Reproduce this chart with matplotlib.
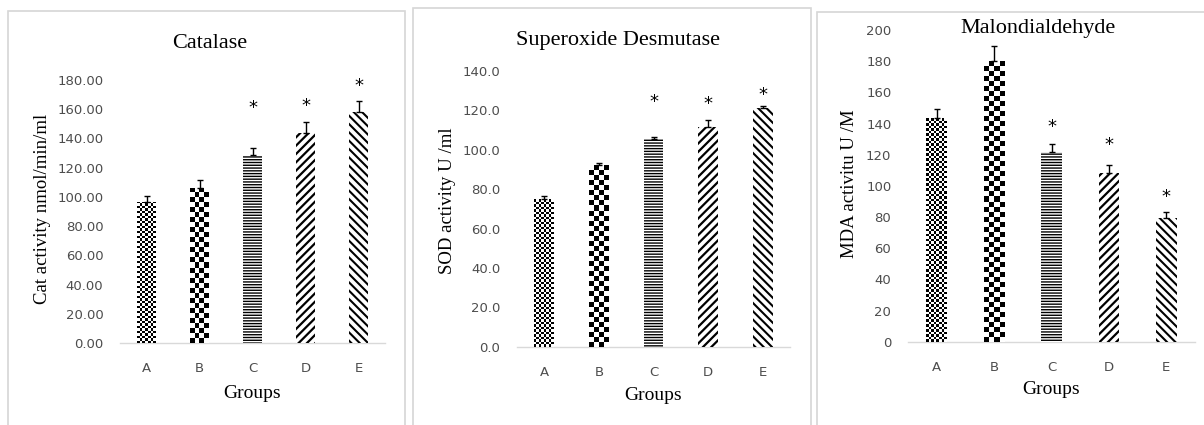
import numpy as np
import matplotlib
matplotlib.use("Agg")
import matplotlib.pyplot as plt
from matplotlib.patches import Rectangle

groups = ["A", "B", "C", "D", "E"]

cat_vals = [96.7, 106.3, 128.7, 143.9, 158.3]
cat_err = [3.9, 5.3, 5.0, 7.4, 7.5]
cat_star = [None, None, 160.8, 162.0, 176.0]

sod_vals = [75.0, 92.3, 105.3, 111.7, 121.0]
sod_err = [1.5, 1.2, 1.4, 3.3, 1.0]
sod_star = [None, None, 124.5, 123.3, 128.0]

mda_vals = [143.3, 180.1, 121.5, 108.3, 79.2]
mda_err = [6.0, 9.4, 5.2, 4.9, 4.1]
mda_star = [None, None, 137.6, 126.0, 92.7]

W, H = 1204, 425
fig = plt.figure(figsize=(W / 100, H / 100), dpi=100)
fig.patch.set_facecolor("white")

SERIF = "Liberation Serif"
TICK_C = "#4d4d4d"


def fx(px):
    return px / W


def fy(py):
    return 1 - py / H


def axes_at(x0, x1, ytop, ybase):
    return fig.add_axes([fx(x0), fy(ybase), fx(x1 - x0), (ybase - ytop) / H])


def checker(ax, bar, cell):
    x0, y0 = bar.get_x(), bar.get_y()
    w, h = bar.get_width(), bar.get_height()
    p0 = ax.transData.transform((x0, y0))
    p1 = ax.transData.transform((x0 + w, y0 + h))
    nx = max(1, int(round((p1[0] - p0[0]) / cell)))
    ny = max(1, int(round((p1[1] - p0[1]) / cell)))
    grid = np.indices((ny, nx)).sum(axis=0) % 2
    im = ax.imshow(grid, cmap="gray", extent=(x0, x0 + w, y0, y0 + h),
                   origin="lower", interpolation="nearest", aspect="auto",
                   zorder=2)
    im.set_clip_path(bar)
    bar.set_facecolor("none")


def panel(ax, vals, errs, stars, ymax, fmt, width):
    x = np.arange(len(groups))
    ax.set_xlim(-0.5, len(groups) - 0.5)
    ax.set_ylim(0, ymax)
    bars = []
    hatches = [None, None, "------", "////", "\\\\\\\\"]
    hlw = [1.0, 1.0, 1.0, 1.6, 1.5]
    for i in range(len(groups)):
        with plt.rc_context({"hatch.linewidth": hlw[i], "hatch.color": "black"}):
            b = ax.bar(x[i], vals[i], width=width, color="white",
                       hatch=hatches[i], edgecolor="black", linewidth=0,
                       zorder=2)[0]
        if hasattr(b, "set_hatch_linewidth"):
            b.set_hatch_linewidth(hlw[i])
        bars.append(b)
    checker(ax, bars[0], 2.5)
    checker(ax, bars[1], 5.0)
    ax.errorbar(x, vals, yerr=[[0] * len(vals), errs], fmt="none",
                ecolor="black", elinewidth=1, capsize=2.5, capthick=1,
                zorder=4)
    for i, s in enumerate(stars):
        if s is not None:
            ax.text(x[i], s, "*", ha="center", va="center", fontsize=13,
                    color="black", zorder=5)
    ax.set_xlim(-0.5, len(groups) - 0.5)
    ax.set_ylim(0, ymax)
    ax.set_yticks(np.arange(0, ymax + 1, 20))
    ax.set_yticklabels([fmt % v for v in np.arange(0, ymax + 1, 20)])
    ax.set_xticks(x)
    ax.set_xticklabels(groups)
    ax.tick_params(axis="y", length=0, pad=12, labelsize=9.5, labelcolor=TICK_C)
    ax.tick_params(axis="x", length=0, pad=14, labelsize=9.5, labelcolor=TICK_C)
    for side in ["left", "right", "top"]:
        ax.spines[side].set_visible(False)
    ax.spines["bottom"].set_color("#d9d9d9")
    ax.spines["bottom"].set_linewidth(1)
    ax.spines["bottom"].set_zorder(1)
    ax.patch.set_alpha(0)


# panel frames
for (x0, x1, yt) in [(8, 405, 11), (413, 811, 7.5), (817, 1210, 11.5)]:
    fig.add_artist(Rectangle((fx(x0), fy(H + 5)), fx(x1 - x0), (H + 5 - yt) / H,
                             transform=fig.transFigure, fill=False,
                             edgecolor="#d6d6d6", linewidth=1.2))

ax1 = axes_at(120, 385, 80, 343)
panel(ax1, cat_vals, cat_err, cat_star, 180, "%.2f", 0.34)
ax2 = axes_at(517, 790, 71, 346.7)
panel(ax2, sod_vals, sod_err, sod_star, 140, "%.1f", 0.36)
ax3 = axes_at(908, 1195, 30, 341.7)
panel(ax3, mda_vals, mda_err, mda_star, 200, "%d", 0.36)

# titles and axis labels
fig.text(fx(210), fy(43), "Catalase", ha="center", va="center",
         family=SERIF, fontsize=16)
fig.text(fx(618), fy(40), "Superoxide Desmutase", ha="center", va="center",
         family=SERIF, fontsize=16)
fig.text(fx(1038), fy(29), "Malondialdehyde", ha="center", va="center",
         family=SERIF, fontsize=16)

fig.text(fx(43), fy(209), "Cat activity nmol/min/ml", rotation=90,
         ha="center", va="center", family=SERIF, fontsize=13.5)
fig.text(fx(447), fy(201), "SOD activity U /ml", rotation=90,
         ha="center", va="center", family=SERIF, fontsize=13.5)
fig.text(fx(850), fy(184), "MDA activitu U /M", rotation=90,
         ha="center", va="center", family=SERIF, fontsize=13.5)

for cx, cy in [(252.5, 393), (653.5, 395), (1051.5, 390)]:
    fig.text(fx(cx), fy(cy), "Groups", ha="center", va="center",
             family=SERIF, fontsize=14)

fig.savefig("out.png", dpi=100, facecolor="white")
